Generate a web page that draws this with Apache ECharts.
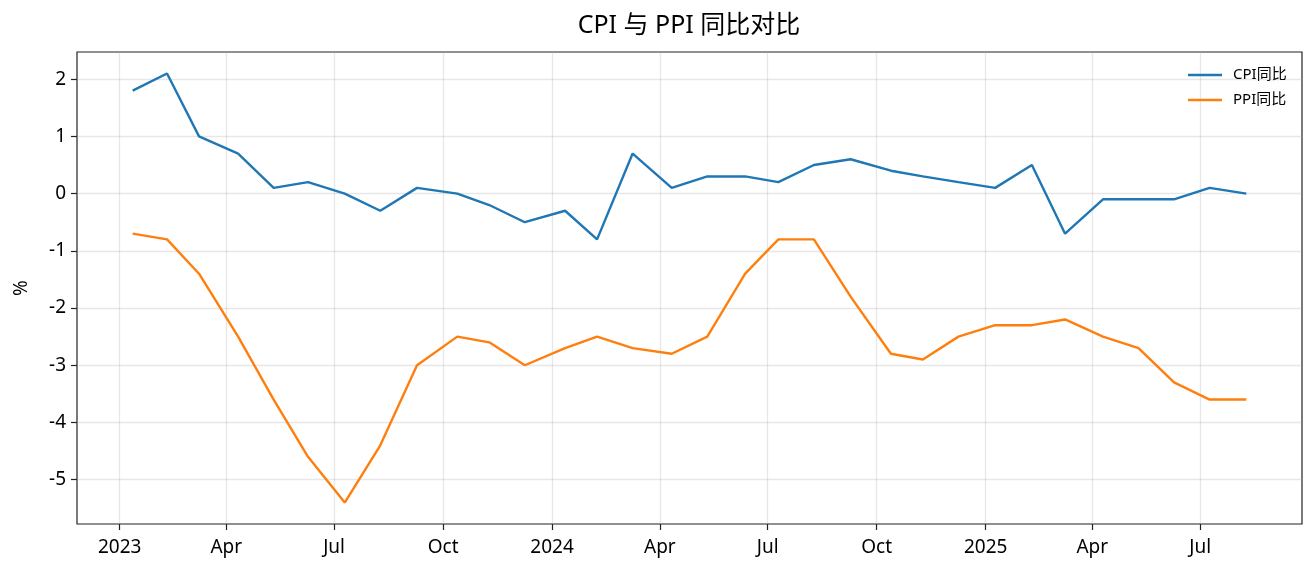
<!DOCTYPE html>
<html>
<head>
<meta charset="utf-8">
<script src="https://cdn.jsdelivr.net/npm/echarts@6/dist/echarts.min.js"></script>
<style>
html,body{margin:0;padding:0;background:#fff;}
#chart{width:1316px;height:574px;}
</style>
</head>
<body>
<div id="chart"></div>
<script>
// Release dates of each monthly figure
const dates = ['2023-01-12','2023-02-10','2023-03-09','2023-04-11','2023-05-11','2023-06-09','2023-07-10','2023-08-09','2023-09-09','2023-10-13','2023-11-09','2023-12-09',
  '2024-01-12','2024-02-08','2024-03-09','2024-04-11','2024-05-11','2024-06-12','2024-07-10','2024-08-09','2024-09-09','2024-10-13','2024-11-09','2024-12-09',
  '2025-01-09','2025-02-09','2025-03-09','2025-04-10','2025-05-10','2025-06-09','2025-07-09','2025-08-09'];
const cpi = [1.8,2.1,1.0,0.7,0.1,0.2,0.0,-0.3,0.1,0.0,-0.2,-0.5,
  -0.3,-0.8,0.7,0.1,0.3,0.3,0.2,0.5,0.6,0.4,0.3,0.2,
  0.1,0.5,-0.7,-0.1,-0.1,-0.1,0.1,0.0];
const ppi = [-0.7,-0.8,-1.4,-2.5,-3.6,-4.6,-5.4,-4.4,-3.0,-2.5,-2.6,-3.0,
  -2.7,-2.5,-2.7,-2.8,-2.5,-1.4,-0.8,-0.8,-1.8,-2.8,-2.9,-2.5,
  -2.3,-2.3,-2.2,-2.5,-2.7,-3.3,-3.6,-3.6];
const xTickDates = ['2023-01-01','2023-04-01','2023-07-01','2023-10-01','2024-01-01','2024-04-01','2024-07-01','2024-10-01','2025-01-01','2025-04-01','2025-07-01'];
const monthNames = ['Jan','Feb','Mar','Apr','May','Jun','Jul','Aug','Sep','Oct','Nov','Dec'];
const yTicks = [-5,-4,-3,-2,-1,0,1,2];
const seriesNames = ['CPI同比','PPI同比'];
const titleText = 'CPI 与 PPI 同比对比';

function ts(s){ const p = s.split('-').map(Number); return Date.UTC(p[0], p[1]-1, p[2]); }
const xs = dates.map(ts);
const xMin0 = Math.min(...xs), xMax0 = Math.max(...xs);
const xPad = (xMax0 - xMin0) * 0.05;
const allY = cpi.concat(ppi);
const yMin0 = Math.min(...allY), yMax0 = Math.max(...allY);
const yPad = (yMax0 - yMin0) * 0.05;
const xTicks = xTickDates.map(ts);

const FONT = "'Noto Sans', 'Noto Sans CJK SC', sans-serif";
const chart = echarts.init(document.getElementById('chart'), null, {renderer:'canvas'});
chart.setOption({
  animation: false,
  backgroundColor: '#fff',
  textStyle: {fontFamily: FONT},
  title: {
    text: titleText, left: 689, top: 13, padding: 0, textAlign: 'center',
    textStyle: {fontSize: 25, fontWeight: 'normal', color: '#000', fontFamily: FONT}
  },
  legend: {
    orient: 'vertical', left: 1188, top: 66, padding: 0,
    icon: 'rect', itemWidth: 34, itemHeight: 2.5, itemGap: 7,
    textStyle: {fontSize: 15, lineHeight: 18, color: '#000', fontFamily: FONT, padding: [0,0,0,6]},
    data: seriesNames
  },
  grid: {left: 77, right: 14, top: 52, bottom: 50, show: true, borderColor: '#222', borderWidth: 1.2, backgroundColor: 'transparent'},
  xAxis: {
    type: 'value', min: xMin0 - xPad, max: xMax0 + xPad, scale: true,
    axisLine: {show: false, onZero: false},
    axisTick: {show: true, inside: false, length: 6, lineStyle: {color: '#222', width: 1.2}, customValues: xTicks},
    axisLabel: {
      customValues: xTicks, margin: 14, fontSize: 19, color: '#000', fontFamily: FONT, hideOverlap: false,
      formatter: function(v){ const d = new Date(v); return d.getUTCMonth() === 0 ? String(d.getUTCFullYear()) : monthNames[d.getUTCMonth()]; }
    },
    splitLine: {show: true, lineStyle: {color: '#b0b0b0', opacity: 0.3, width: 1.3}}
  },
  yAxis: {
    type: 'value', min: yMin0 - yPad, max: yMax0 + yPad,
    name: '%', nameLocation: 'middle', nameGap: 46, nameRotate: 90,
    nameTextStyle: {fontSize: 19, color: '#000', fontFamily: FONT},
    axisLine: {show: false, onZero: false},
    axisTick: {show: true, inside: false, length: 6, lineStyle: {color: '#222', width: 1.2}, customValues: yTicks},
    axisLabel: {customValues: yTicks, margin: 11, fontSize: 19, color: '#000', fontFamily: FONT},
    splitLine: {show: true, lineStyle: {color: '#b0b0b0', opacity: 0.3, width: 1.3}}
  },
  series: [
    {name: seriesNames[0], type: 'line', data: xs.map((x,i)=>[x, cpi[i]]), showSymbol: false, symbol: 'none',
     lineStyle: {color: '#1f77b4', width: 2.4}, itemStyle: {color: '#1f77b4'}},
    {name: seriesNames[1], type: 'line', data: xs.map((x,i)=>[x, ppi[i]]), showSymbol: false, symbol: 'none',
     lineStyle: {color: '#ff7f0e', width: 2.4}, itemStyle: {color: '#ff7f0e'}}
  ]
});
</script>
</body>
</html>
